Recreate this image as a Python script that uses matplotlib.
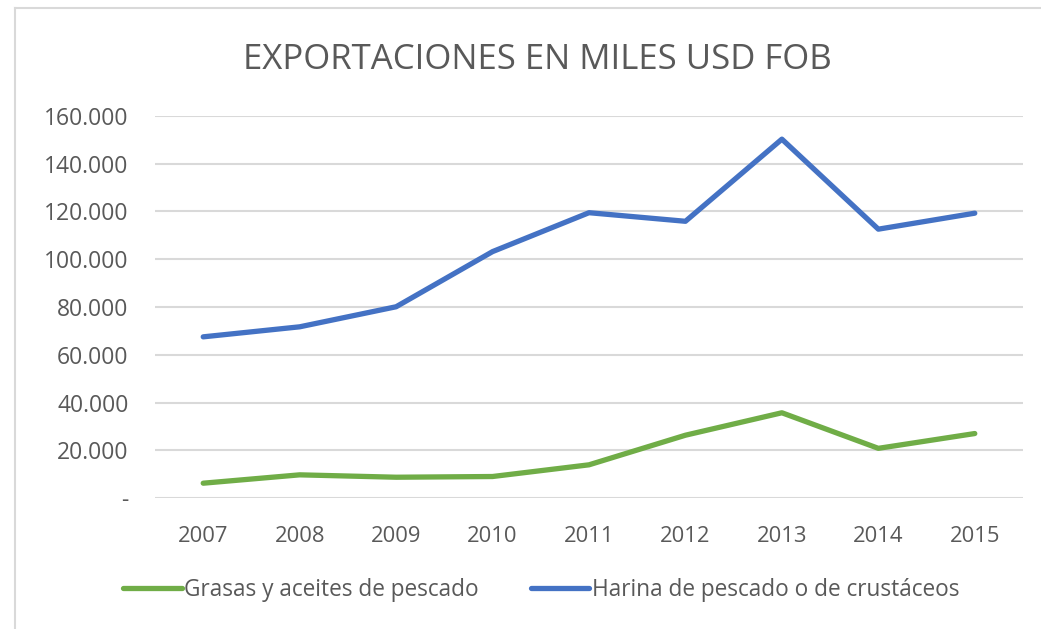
import matplotlib.pyplot as plt
from matplotlib.lines import Line2D
from matplotlib.ticker import FuncFormatter

years = ["2007", "2008", "2009", "2010", "2011", "2012", "2013", "2014", "2015"]
grasas = [6200, 9700, 8700, 9000, 13900, 26300, 35700, 20800, 27000]
harina = [67500, 71700, 80100, 103200, 119500, 115900, 150300, 112600, 119300]

plt.rcParams['font.family'] = ['Open Sans', 'DejaVu Sans']
gray = '#595959'

fig = plt.figure(figsize=(10.41, 6.29), dpi=100)
ax = fig.add_axes([155 / 1041, 1 - 498 / 629, (1023 - 155) / 1041, (498 - 116) / 629])

x = range(len(years))
ax.plot(x, grasas, color='#70AD47', lw=3.8, solid_capstyle='round', label='Grasas y aceites de pescado')
ax.plot(x, harina, color='#4472C4', lw=3.8, solid_capstyle='round', label='Harina de pescado o de crustáceos')

ax.set_xlim(-0.5, len(years) - 0.5)
ax.set_ylim(0, 160000)
ax.set_yticks(range(0, 160001, 20000))
ax.yaxis.set_major_formatter(FuncFormatter(lambda v, p: '-' if v == 0 else f"{int(v):,}".replace(',', '.')))
ax.set_xticks(list(x))
ax.set_xticklabels(years)
ax.grid(axis='y', color='#D9D9D9', lw=1.5)
ax.set_axisbelow(True)
for s in ax.spines.values():
    s.set_visible(False)
ax.tick_params(length=0, colors=gray, labelsize=15.8)
ax.tick_params(axis='y', labelsize=16.5, pad=19)
ax.tick_params(axis='x', pad=20)

fig.text(537 / 1041, 1 - 60 / 629, 'EXPORTACIONES EN MILES USD FOB', ha='center', va='center',
         fontsize=25, color=gray)

fig.legend(loc='center', bbox_to_anchor=(541 / 1041, 1 - 590 / 629), ncol=2, frameon=False,
           fontsize=16.3, labelcolor=gray, handlelength=2.6, handletextpad=0.1, columnspacing=2.3)

fig.add_artist(Line2D([15 / 1041, 15 / 1041], [0, 1 - 8 / 629], color='#D9D9D9', lw=1.5))
fig.add_artist(Line2D([15 / 1041, 1], [1 - 8 / 629, 1 - 8 / 629], color='#D9D9D9', lw=1.5))

fig.savefig('out.png', dpi=100)
